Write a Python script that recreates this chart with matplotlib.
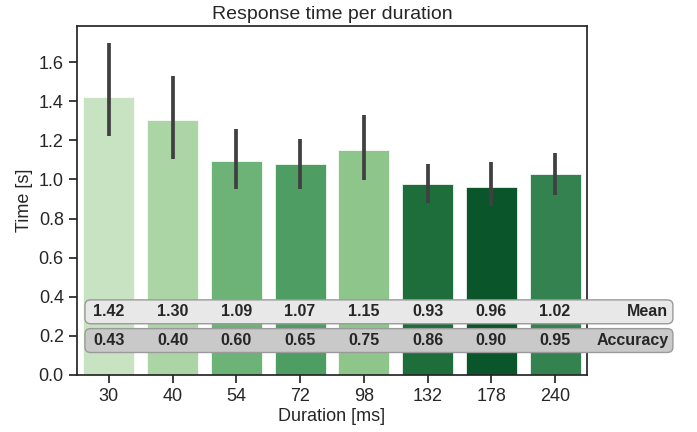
import numpy as np
import matplotlib
matplotlib.use("Agg")
import matplotlib.pyplot as plt
import seaborn as sns
from matplotlib.patches import FancyBboxPatch

# data
durations = ['30', '40', '54', '72', '98', '132', '178', '240']
mean_rt = [1.422, 1.305, 1.094, 1.079, 1.148, 0.975, 0.962, 1.030]
ci_low = [1.222, 1.102, 0.949, 0.949, 0.995, 0.878, 0.863, 0.918]
ci_high = [1.697, 1.529, 1.260, 1.209, 1.331, 1.081, 1.087, 1.137]
mean_labels = [1.42, 1.30, 1.09, 1.07, 1.15, 0.93, 0.96, 1.02]
accuracy = [0.43, 0.40, 0.60, 0.65, 0.75, 0.86, 0.90, 0.95]

# greens from light to dark, assigned by rank of the bar height
greens = ['#c8e3c2', '#acd5a6', '#8ec58b', '#6db277',
          '#4e9e63', '#358251', '#1e6e3b', '#0b552b']

sns.set_theme(style="ticks")
plt.rcParams['font.family'] = ['Liberation Sans', 'DejaVu Sans']

fig = plt.figure(figsize=(6.97, 4.32), dpi=100)
ax = fig.add_axes([0.1105, 0.132, 0.7315, 0.808])

x = np.arange(len(durations))
order = np.argsort(mean_rt)[::-1]  # highest -> lightest
colors = [None] * len(durations)
for r, idx in enumerate(order):
    colors[idx] = greens[r]

ax.bar(x, mean_rt, width=0.8, color=colors, edgecolor='white', linewidth=0.5, zorder=1)
ax.vlines(x, ci_low, ci_high, color='#404040', linewidth=2.7, zorder=2)

ax.set_xlim(-0.5, 7.5)
ax.set_ylim(0, 1.785)
ax.set_yticks(np.arange(0, 1.61, 0.2))
ax.set_xticks(x)
ax.set_xticklabels(durations)
ax.tick_params(labelsize=13)
ax.set_xlabel('Duration [ms]', fontsize=13, labelpad=2)
ax.set_ylabel('Time [s]', fontsize=13)
ax.set_title('Response time per duration', fontsize=14, pad=5)

# summary rows (mean / accuracy)
rows = [(0.323, mean_labels, 'Mean', '#e8e8e8'),
        (0.176, accuracy, 'Accuracy', '#c9c9c9')]
for yc, vals, name, fc in rows:
    box = FancyBboxPatch((-0.375, yc - 0.061), 9.225, 0.122,
                         boxstyle="round,pad=0,rounding_size=0.09",
                         mutation_aspect=0.3, facecolor=fc, edgecolor='#9a9a9a',
                         linewidth=1, clip_on=False, zorder=3)
    ax.add_patch(box)
    for i, v in enumerate(vals):
        ax.text(i, yc, f'{v:.2f}', ha='center', va='center', fontsize=11.5,
                fontweight='bold', color='#262626', zorder=4, clip_on=False)
    ax.text(8.78, yc, name, ha='right', va='center', fontsize=11.5,
            fontweight='bold', color='#262626', zorder=4, clip_on=False)

fig.savefig('out.png', dpi=100)
